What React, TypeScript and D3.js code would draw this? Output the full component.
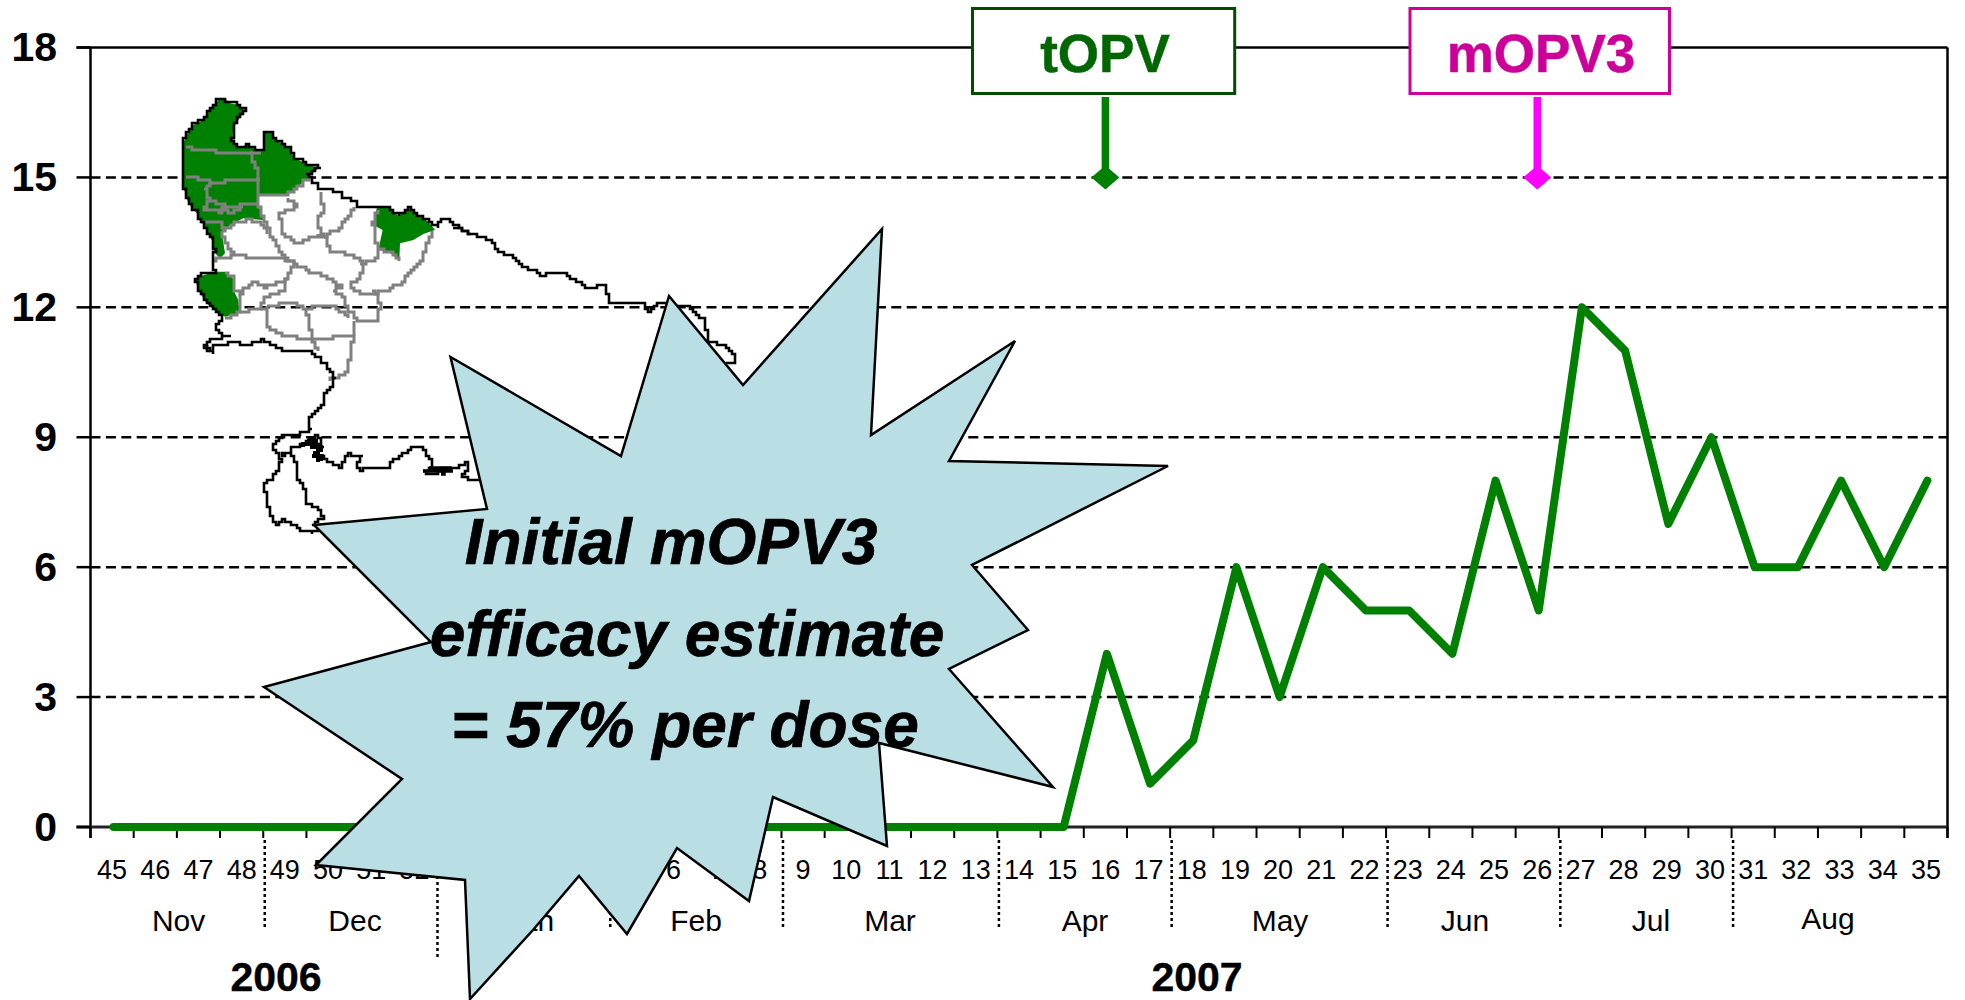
import React from "react";
import * as d3 from "d3";

// ---------- chart data ----------
const weeks = [45,46,47,48,49,50,51,52,1,2,3,4,5,6,7,8,9,10,11,12,13,14,15,16,17,18,19,20,21,22,23,24,25,26,27,28,29,30,31,32,33,34,35];
const cases = [0,0,0,0,0,0,0,0,0,0,0,0,0,0,0,0,0,0,0,0,0,0,0,4,1,2,6,3,6,5,5,4,8,5,12,11,7,9,6,6,8,6,8];
const yTicks = [0,3,6,9,12,15,18];
const months = ["Nov","Dec","Jan","Feb","Mar","Apr","May","Jun","Jul","Aug"];
const monthCenters = [178.6,355,530,696,890,1085,1280,1465,1651,1828];
const monthBreaks = [4,8,12,16,21,25,30,34,38];
const years = [{label:"2006",x:276},{label:"2007",x:1197}];
const campaigns = [
  {label:"tOPV",week:16,level:15,line:"#008000",box:"#004d00",text:"#006600",x0:972.5,x1:1234.7,cx:1105},
  {label:"mOPV3",week:26,level:15,line:"#FF00FF",box:"#CC0099",text:"#CC0099",x0:1410,x1:1669.5,cx:1541},
];
const calloutLines = [
  {text:"Initial mOPV3",x:671,y:541},
  {text:"efficacy estimate",x:687,y:633},
  {text:"= 57% per dose",x:685,y:724},
];

// ---------- annotation geometry (traced outlines) ----------
type P = [number,number];
const starburst: P[] = [[882,229],[871,435],[1015,341],[949,461],[1168,466],[972,565],[1028,630],[949,669],[1053,787],[879,743],[887,846],[773,797],[749,901],[677,848],[627,934],[579,876],[533,930],[470,999],[465,880],[316,865],[402,779],[264,687],[431,642],[314,525],[487,509],[450.5,357],[621,456],[669,296],[743,385]];

const fromA = (p:P):P => [170+p[0]/3, 90+p[1]/3];
const fromB = (p:P):P => [p[0]/1.96, p[1]/2.8];
const fromC = (p:P):P => [240+p[0]/3, 340+p[1]/3];

const borderNE: P[] = [[145,30],[165,25],[172,38],[190,40],[205,45],[225,62],[210,80],[205,90],[190,115],[187,150],[197,165],[205,172],[232,165],[255,178],[280,180],[285,125],[303,123],[310,145],[335,160],[360,175],[370,200],[395,215],[420,225],[455,235],[430,245],[410,255],[425,270],[445,295],[475,295],[500,305],[525,325],[555,335],[565,350],[620,355],[655,350],[685,378],[715,355],[745,375],[775,395],[800,410],[815,385],[840,392],[860,405],[900,432]];
const borderE: P[] = [[890,635],[912,650],[935,660],[965,672],[975,705],[1005,720],[1025,745],[1065,775],[1075,762],[1105,765],[1140,795],[1145,805],[1185,800],[1195,845],[1260,850],[1270,875],[1290,845],[1350,862],[1380,900],[1390,960],[1420,965],[1442,1000],[1442,1015],[1425,1015]];
const borderW: P[] = [[145,30],[120,60],[100,90],[70,105],[50,135],[40,160],[40,200],[38,250],[40,290],[55,340],[80,370],[95,395],[110,420],[130,460],[135,490],[125,510],[135,545],[100,550],[75,570],[90,610],[110,640],[140,665],[160,690],[135,715],[160,735],[180,735],[150,745],[115,755],[105,770],[120,785]];
const borderS: P[] = [[405,965],[415,990],[417,970],[450,958],[490,965],[510,950],[530,965],[565,985],[600,980],[625,1000],[645,1040],[657,1060],[650,1085],[635,1105],[635,1130],[610,1170],[605,1185],[610,1205],[590,1215],[555,1218],[535,1250],[550,1295],[540,1330],[518,1360],[525,1420],[540,1470],[555,1455],[585,1480],[610,1493],[630,1470]];
const borderInner: P[] = [[215,555],[250,530],[240,510],[220,495],[200,490],[200,450],[175,410],[170,370],[150,340],[130,345],[155,325],[175,320],[200,300],[235,285],[245,310],[225,320],[250,325],[225,345],[250,350],[270,370],[300,380],[320,340],[345,350],[365,350],[350,380],[360,395],[380,380],[440,388],[450,365],[490,340],[520,320],[550,318],[555,345],[580,360],[580,385],[550,395],[580,405],[610,380],[640,385],[680,365],[685,390],[665,410],[700,420],[720,420]];
const clump: P[] = [[185,320],[215,300],[235,300],[215,325],[245,320],[220,350],[250,345],[235,365]];
const clump2: P[] = [[545,395],[610,395],[570,380],[640,390],[600,405]];

const greenNW: P[] = [[145,30],[165,25],[180,40],[205,45],[225,62],[205,90],[190,115],[187,150],[205,172],[232,165],[255,178],[280,180],[285,125],[303,123],[310,145],[335,160],[360,175],[370,200],[395,215],[420,225],[445,235],[410,265],[385,290],[355,312],[265,318],[265,345],[280,390],[220,385],[190,400],[155,425],[165,490],[150,505],[135,490],[130,460],[110,420],[95,395],[80,370],[55,340],[40,290],[38,250],[40,200],[40,160],[50,135],[70,105],[100,90],[120,60]];
const greenE: P[] = [[620,355],[655,350],[685,378],[715,355],[745,375],[775,395],[795,420],[760,432],[730,450],[690,460],[688,510],[655,485],[625,480],[638,420],[610,405]];
const greenSW: P[] = [[85,560],[135,545],[165,545],[195,570],[190,600],[205,630],[208,670],[165,680],[140,665],[110,640],[90,610],[75,570]];

const districts: P[][] = [
  [[45,170],[80,180],[110,180],[160,190],[205,185],[240,190],[255,185],[275,185]],
  [[240,190],[260,240],[265,300],[265,345],[285,400],[300,430],[330,490],[370,520],[420,545],[465,560],[515,590],[490,605],[520,620],[525,650],[560,690],[625,690],[630,640],[615,600],[605,605]],
  [[45,260],[100,268],[130,280],[190,270],[260,265]],
  [[130,280],[105,300],[120,335],[175,350],[265,340]],
  [[120,335],[100,360],[150,365],[165,350],[175,372],[215,350]],
  [[90,395],[150,400],[165,420]],
  [[155,425],[190,400],[230,390],[270,395],[295,430]],
  [[155,425],[170,470],[190,495],[260,505],[330,505],[370,520]],
  [[125,510],[170,505],[190,495]],
  [[265,318],[350,312],[385,290],[415,260]],
  [[350,325],[385,350],[330,375],[335,430],[380,460],[440,435],[460,440],[440,380],[465,370],[450,310]],
  [[465,440],[510,410],[555,350]],
  [[465,440],[480,485],[550,495],[580,520],[570,570],[540,580],[550,605],[610,615],[625,600],[650,600],[700,575],[710,550],[750,520],[775,450],[790,420]],
  [[570,520],[615,510],[625,480],[610,400],[620,360]],
  [[625,480],[655,485],[690,510]],
  [[165,545],[195,570],[190,600],[210,610],[245,575],[285,590],[345,570],[360,540],[370,520]],
  [[210,610],[210,670],[165,685]],
  [[350,570],[345,600],[285,625],[270,655],[210,670]],
  [[270,655],[295,650],[290,710],[340,740],[420,745],[550,740],[540,810],[530,850],[480,870]],
  [[295,650],[370,635],[410,665],[425,745],[440,785]],
  [[410,660],[430,645],[490,650],[530,680]],
  [[550,740],[555,695]],
];

// ---------- scales ----------
const x = d3.scaleBand<number>().domain(d3.range(weeks.length)).range([90.5,1947.5]);
const y = d3.scaleLinear().domain([0,18]).range([827,47.5]);
const cx = (i:number)=>(x(i) as number)+x.bandwidth()/2;
const caseLine = d3.line<number>().x((_,i)=>cx(i)+1.5).y(d=>y(d));
const poly = d3.line<P>().x(d=>d[0]).y(d=>d[1]);
const closed = (pts:P[]) => poly(pts)+"Z";
// pixelated (staircase) rendering for the low-resolution map outlines
const GRID = 3;
const snap = (v:number)=>Math.round(v/GRID)*GRID;
const stairLine = d3.line<P>().x(d=>d[0]).y(d=>d[1]).curve(d3.curveStepAfter);
const stair = (pts:P[]) => {
  const out:P[] = [];
  pts.forEach((p,i)=>{
    if(i===0){ out.push([snap(p[0]),snap(p[1])]); return; }
    const q = pts[i-1];
    const n = Math.max(1,Math.ceil(Math.hypot(p[0]-q[0],p[1]-q[1])/GRID));
    for(let k=1;k<=n;k++){
      const s:P = [snap(q[0]+(p[0]-q[0])*k/n),snap(q[1]+(p[1]-q[1])*k/n)];
      const last = out[out.length-1];
      if(s[0]!==last[0]||s[1]!==last[1]) out.push(s);
    }
  });
  return stairLine(out) as string;
};
const FONT = "'Liberation Sans', Arial, sans-serif";

export default function App(){
  const edges = d3.range(weeks.length+1).map(i=>90.5+i*x.step());
  return (
    <svg width={1965} height={1000} style={{position:"absolute",left:0,top:0,background:"#fff"}} fontFamily={FONT}>
      {/* gridlines */}
      {yTicks.filter(t=>t>0&&t<18).map(t=>(
        <line key={t} x1={90.5} x2={1947.5} y1={y(t)} y2={y(t)} stroke="#000" strokeWidth={2.5} strokeDasharray="10 5.4"/>
      ))}
      <line x1={76.5} x2={1947.5} y1={y(18)} y2={y(18)} stroke="#000" strokeWidth={2.5}/>
      <line x1={90.5} x2={90.5} y1={y(18)} y2={838} stroke="#000" strokeWidth={2.5}/>
      <line x1={1947.5} x2={1947.5} y1={y(18)} y2={838} stroke="#000" strokeWidth={2.5}/>
      <line x1={76.5} x2={1947.5} y1={y(0)} y2={y(0)} stroke="#222" strokeWidth={3}/>
      {yTicks.map(t=>(
        <g key={t}>
          <line x1={76.5} x2={90.5} y1={y(t)} y2={y(t)} stroke="#000" strokeWidth={2.5}/>
          <text x={57} y={y(t)+13.5} textAnchor="end" fontSize={41} fontWeight="bold">{t}</text>
        </g>
      ))}
      {edges.map((e,i)=>(<line key={i} x1={e} x2={e} y1={827} y2={838} stroke="#000" strokeWidth={2}/>))}
      {weeks.map((w,i)=>(
        <text key={i} x={cx(i)} y={878.5} textAnchor="middle" fontSize={27}>{w}</text>
      ))}
      {monthBreaks.map((b)=>(
        <line key={b} x1={92+b*x.step()+90.5-90.5} x2={92+b*x.step()} y1={840} y2={b===8?960:928} stroke="#000" strokeWidth={2.5} strokeDasharray="3 3"/>
      ))}
      {months.map((m,i)=>(
        <text key={m} x={monthCenters[i]} y={m==="Aug"?929:931} textAnchor="middle" fontSize={30}>{m}</text>
      ))}
      {years.map(v=>(
        <text key={v.label} x={v.x} y={991} textAnchor="middle" fontSize={41} fontWeight="bold" stroke="#000" strokeWidth={0.4}>{v.label}</text>
      ))}

      {/* map */}
      <g>
        {[greenNW,greenE,greenSW].map((g,i)=>(<path key={i} d={closed(g.map(fromA))} fill="#008000"/>))}
        {districts.map((d,i)=>(<path key={i} d={stair(d.map(fromA))} fill="none" stroke="#808080" strokeWidth={3}/>))}
        <g fill="none" stroke="#000" strokeWidth={2.6}>
          <path d={stair(borderNE.map(fromA))}/>
          <path d={stair(borderE.map(fromB))}/>
          <path d={stair(borderW.map(fromA))}/>
          <path d={stair(borderS.map(fromB))}/>
          <path d={stair(borderInner.map(fromC))}/>
          <path d={stair(clump.map(fromC))} strokeWidth={4}/>
          <path d={stair(clump2.map(fromC))} strokeWidth={3.5}/>
        </g>
      </g>

      {/* case line */}
      <path d={caseLine(cases) as string} fill="none" stroke="#008000" strokeWidth={8} strokeLinejoin="round" strokeLinecap="round"/>

      {/* campaign markers */}
      {campaigns.map(c=>{
        const mx = cx(weeks.indexOf(c.week));
        const my = y(c.level);
        return (
          <g key={c.label}>
            <rect x={c.x0} y={8.5} width={c.x1-c.x0} height={85} fill="#fff" stroke={c.box} strokeWidth={3}/>
            <text x={c.cx} y={72} textAnchor="middle" fontSize={53} fontWeight="bold" fill={c.text} stroke={c.text} strokeWidth={0.5}>{c.label}</text>
            <line x1={mx} x2={mx} y1={97} y2={my} stroke={c.line} strokeWidth={7.5}/>
            <path d={closed([[mx,my-12],[mx+14,my],[mx,my+12],[mx-14,my]])} fill={c.line}/>
          </g>
        );
      })}

      {/* callout */}
      <path d={closed(starburst)} fill="#B9DFE4" stroke="#000" strokeWidth={2.5} strokeLinejoin="miter"/>
      {calloutLines.map(l=>(
        <text key={l.text} x={l.x} y={l.y+23} textAnchor="middle" fontSize={64} fontWeight="bold" fontStyle="italic" stroke="#000" strokeWidth={0.7}>{l.text}</text>
      ))}
    </svg>
  );
}
